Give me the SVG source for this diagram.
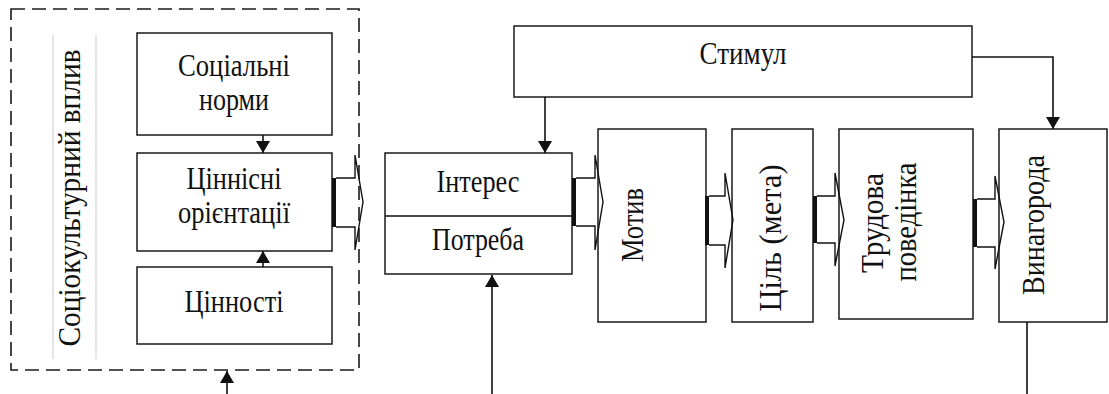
<svg xmlns="http://www.w3.org/2000/svg" width="1109" height="394" viewBox="0 0 1109 394">
  <style>
    .box { fill: #fff; stroke: #1a1a1a; stroke-width: 1.5; }
    .dash { fill: none; stroke: #1a1a1a; stroke-width: 1.6; stroke-dasharray: 14 7; }
    .guide { stroke: #d4d4d4; stroke-width: 1.2; }
    .line { fill: none; stroke: #111; stroke-width: 1.6; }
    .block { fill: none; stroke: #111; stroke-width: 1.4; stroke-linejoin: miter; }
    .bar { fill: #111; }
    .t { font-family: 'Liberation Serif', 'Times New Roman', serif; font-size: 31px; fill: #111; text-anchor: middle; }
  </style>
  <defs>
    <marker id="arr" viewBox="0 0 12 14" refX="12" refY="7" markerWidth="12" markerHeight="14" markerUnits="userSpaceOnUse" orient="auto">
      <path d="M0,0 L12,7 L0,14 Z" fill="#111"/>
    </marker>
  </defs>

  <!-- socio-cultural frame -->
  <g id="frame" font-family="Liberation Serif, serif">
    <rect class="dash" x="11" y="9" width="348" height="361"/>
    <line class="guide" x1="53" y1="35" x2="53" y2="359"/>
    <line class="guide" x1="96" y1="35" x2="96" y2="359"/>
    <text class="t" transform="translate(80,198) rotate(-90)" textLength="297" lengthAdjust="spacingAndGlyphs">Соціокультурний вплив</text>
  </g>

  <g id="norms">
    <rect class="box" x="137" y="33" width="195" height="102"/>
    <text class="t" x="234" y="76" textLength="112" lengthAdjust="spacingAndGlyphs">Соціальні</text>
    <text class="t" x="234" y="110" textLength="70" lengthAdjust="spacingAndGlyphs">норми</text>
  </g>

  <g id="orientations">
    <rect class="box" x="137" y="153" width="195" height="98"/>
    <text class="t" x="234" y="189" textLength="95" lengthAdjust="spacingAndGlyphs">Ціннісні</text>
    <text class="t" x="234" y="223" textLength="112" lengthAdjust="spacingAndGlyphs">орієнтації</text>
  </g>

  <g id="values">
    <rect class="box" x="137" y="267" width="195" height="77"/>
    <text class="t" x="234" y="312" textLength="99" lengthAdjust="spacingAndGlyphs">Цінності</text>
  </g>

  <g id="interest-need">
    <rect class="box" x="385" y="153" width="187" height="121"/>
    <line class="line" x1="385" y1="216" x2="572" y2="216" style="stroke-width:1.5"/>
    <text class="t" x="478" y="192" textLength="83" lengthAdjust="spacingAndGlyphs">Інтерес</text>
    <text class="t" x="478" y="250" textLength="92" lengthAdjust="spacingAndGlyphs">Потреба</text>
  </g>

  <g id="stimulus">
    <rect class="box" x="514" y="26" width="458" height="71"/>
    <text class="t" x="743" y="64" textLength="87" lengthAdjust="spacingAndGlyphs">Стимул</text>
  </g>

  <g id="motive">
    <rect class="box" x="598" y="129" width="108" height="193"/>
    <text class="t" transform="translate(643,225) rotate(-90)" textLength="74" lengthAdjust="spacingAndGlyphs">Мотив</text>
  </g>

  <g id="goal">
    <rect class="box" x="732" y="129" width="81" height="193"/>
    <text class="t" transform="translate(781,238) rotate(-90)" textLength="147" lengthAdjust="spacingAndGlyphs">Ціль (мета)</text>
  </g>

  <g id="behaviour">
    <rect class="box" x="839" y="129" width="134" height="190"/>
    <text class="t" transform="translate(883,223) rotate(-90)" textLength="100" lengthAdjust="spacingAndGlyphs">Трудова</text>
    <text class="t" transform="translate(916,222) rotate(-90)" textLength="119" lengthAdjust="spacingAndGlyphs">поведінка</text>
  </g>

  <g id="reward">
    <rect class="box" x="999" y="129" width="108" height="193"/>
    <text class="t" transform="translate(1044,225) rotate(-90)" textLength="140" lengthAdjust="spacingAndGlyphs">Винагорода</text>
  </g>

  <!-- connectors -->
  <g id="connectors">
    <!-- thin arrows -->
    <line class="line" x1="263" y1="135" x2="263" y2="153" marker-end="url(#arr)"/>
    <line class="line" x1="263" y1="267" x2="263" y2="251" marker-end="url(#arr)"/>
    <line class="line" x1="227" y1="394" x2="227" y2="371" marker-end="url(#arr)"/>
    <line class="line" x1="492" y1="394" x2="492" y2="275" marker-end="url(#arr)"/>
    <line class="line" x1="545" y1="97" x2="545" y2="153" marker-end="url(#arr)"/>
    <polyline class="line" points="972,57 1053,57 1053,129" marker-end="url(#arr)"/>
    <line class="line" x1="1027" y1="322" x2="1027" y2="394"/>

    <!-- block arrows -->
    <rect class="bar" x="332" y="178" width="4" height="49"/>
    <path class="block" d="M336,178 H355 V155 L363,202 L355,250 V227 H336"/>

    <rect class="bar" x="572" y="178" width="4" height="48"/>
    <path class="block" d="M576,178 H595 V155 L603,202 L595,250 V226 H576"/>

    <rect class="bar" x="705" y="196" width="4" height="49"/>
    <path class="block" d="M709,196 H725 V173 L733,220 L725,268 V245 H709"/>

    <rect class="bar" x="813" y="196" width="4" height="47"/>
    <path class="block" d="M817,196 H835 V173 L844,220 L835,266 V243 H817"/>

    <rect class="bar" x="973" y="199" width="4" height="48"/>
    <path class="block" d="M977,199 H995 V176 L1004,222 L995,269 V247 H977"/>
  </g>
</svg>
